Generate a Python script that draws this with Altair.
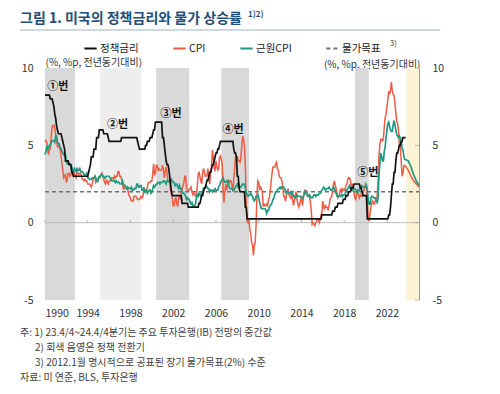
import altair as alt
import pandas as pd

FONT = "Noto Sans CJK KR"
START = 1990

# 정책금리 (monthly, 1990.1 ~ 2023.10)
ffr = [
    8.25, 8.25, 8.25, 8.25, 8.25, 8.25, 8.0, 8.0, 8.0, 7.75, 7.5, 7.0,      # 1990
    6.75, 6.25, 6.0, 5.75, 5.75, 5.75, 5.75, 5.5, 5.25, 5.0, 4.75, 4.0,     # 1991
    4.0, 4.0, 4.0, 3.75, 3.75, 3.75, 3.25, 3.25, 3.0, 3.0, 3.0, 3.0,        # 1992
    3.0, 3.0, 3.0, 3.0, 3.0, 3.0, 3.0, 3.0, 3.0, 3.0, 3.0, 3.0,             # 1993
    3.0, 3.25, 3.5, 3.75, 4.25, 4.25, 4.25, 4.75, 4.75, 4.75, 5.5, 5.5,     # 1994
    5.5, 6.0, 6.0, 6.0, 6.0, 6.0, 5.75, 5.75, 5.75, 5.75, 5.75, 5.5,        # 1995
    5.25, 5.25, 5.25, 5.25, 5.25, 5.25, 5.25, 5.25, 5.25, 5.25, 5.25, 5.25, # 1996
    5.25, 5.25, 5.5, 5.5, 5.5, 5.5, 5.5, 5.5, 5.5, 5.5, 5.5, 5.5,           # 1997
    5.5, 5.5, 5.5, 5.5, 5.5, 5.5, 5.5, 5.5, 5.25, 5.0, 4.75, 4.75,          # 1998
    4.75, 4.75, 4.75, 4.75, 4.75, 5.0, 5.0, 5.25, 5.25, 5.25, 5.5, 5.5,     # 1999
    5.5, 5.75, 6.0, 6.0, 6.5, 6.5, 6.5, 6.5, 6.5, 6.5, 6.5, 6.5,            # 2000
    5.5, 5.5, 5.0, 4.5, 4.0, 3.75, 3.75, 3.5, 3.0, 2.5, 2.0, 1.75,          # 2001
    1.75, 1.75, 1.75, 1.75, 1.75, 1.75, 1.75, 1.75, 1.75, 1.75, 1.25, 1.25, # 2002
    1.25, 1.25, 1.25, 1.25, 1.25, 1.0, 1.0, 1.0, 1.0, 1.0, 1.0, 1.0,        # 2003
    1.0, 1.0, 1.0, 1.0, 1.0, 1.25, 1.25, 1.5, 1.75, 1.75, 2.0, 2.25,        # 2004
    2.25, 2.5, 2.75, 2.75, 3.0, 3.25, 3.25, 3.5, 3.75, 3.75, 4.0, 4.25,     # 2005
    4.5, 4.5, 4.75, 4.75, 5.0, 5.25, 5.25, 5.25, 5.25, 5.25, 5.25, 5.25,    # 2006
    5.25, 5.25, 5.25, 5.25, 5.25, 5.25, 5.25, 5.25, 4.75, 4.5, 4.5, 4.25,   # 2007
    3.0, 3.0, 2.25, 2.0, 2.0, 2.0, 2.0, 2.0, 2.0, 1.0, 1.0, 0.25,           # 2008
    0.25, 0.25, 0.25, 0.25, 0.25, 0.25, 0.25, 0.25, 0.25, 0.25, 0.25, 0.25, # 2009
    0.25, 0.25, 0.25, 0.25, 0.25, 0.25, 0.25, 0.25, 0.25, 0.25, 0.25, 0.25, # 2010
    0.25, 0.25, 0.25, 0.25, 0.25, 0.25, 0.25, 0.25, 0.25, 0.25, 0.25, 0.25, # 2011
    0.25, 0.25, 0.25, 0.25, 0.25, 0.25, 0.25, 0.25, 0.25, 0.25, 0.25, 0.25, # 2012
    0.25, 0.25, 0.25, 0.25, 0.25, 0.25, 0.25, 0.25, 0.25, 0.25, 0.25, 0.25, # 2013
    0.25, 0.25, 0.25, 0.25, 0.25, 0.25, 0.25, 0.25, 0.25, 0.25, 0.25, 0.25, # 2014
    0.25, 0.25, 0.25, 0.25, 0.25, 0.25, 0.25, 0.25, 0.25, 0.25, 0.25, 0.5,  # 2015
    0.5, 0.5, 0.5, 0.5, 0.5, 0.5, 0.5, 0.5, 0.5, 0.5, 0.5, 0.75,            # 2016
    0.75, 0.75, 1.0, 1.0, 1.0, 1.25, 1.25, 1.25, 1.25, 1.25, 1.25, 1.5,     # 2017
    1.5, 1.5, 1.75, 1.75, 1.75, 2.0, 2.0, 2.0, 2.25, 2.25, 2.25, 2.5,       # 2018
    2.5, 2.5, 2.5, 2.5, 2.5, 2.5, 2.25, 2.25, 2.0, 1.75, 1.75, 1.75,        # 2019
    1.75, 1.75, 0.25, 0.25, 0.25, 0.25, 0.25, 0.25, 0.25, 0.25, 0.25, 0.25, # 2020
    0.25, 0.25, 0.25, 0.25, 0.25, 0.25, 0.25, 0.25, 0.25, 0.25, 0.25, 0.25, # 2021
    0.25, 0.25, 0.5, 0.5, 1.0, 1.75, 2.5, 2.5, 3.25, 3.25, 4.0, 4.5,        # 2022
    4.5, 4.75, 5.0, 5.0, 5.25, 5.25, 5.5, 5.5, 5.5, 5.5,                    # 2023
]

# CPI (전년동기대비, monthly, 1990.1 ~ 2023.9)
cpi = [
    5.2, 5.3, 5.2, 4.7, 4.4, 4.7, 4.8, 5.6, 6.2, 6.3, 6.3, 6.1,   # 1990
    5.7, 5.3, 4.9, 4.9, 5.0, 4.7, 4.4, 3.8, 3.4, 2.9, 3.0, 3.1,   # 1991
    2.6, 2.8, 3.2, 3.2, 3.0, 3.1, 3.2, 3.1, 3.0, 3.2, 3.0, 2.9,   # 1992
    3.3, 3.2, 3.1, 3.2, 3.2, 3.0, 2.8, 2.8, 2.7, 2.8, 2.7, 2.7,   # 1993
    2.5, 2.5, 2.5, 2.4, 2.3, 2.5, 2.8, 2.9, 3.0, 2.6, 2.7, 2.7,   # 1994
    2.8, 2.9, 2.9, 3.1, 3.2, 3.0, 2.8, 2.6, 2.5, 2.8, 2.6, 2.5,   # 1995
    2.7, 2.7, 2.8, 2.9, 2.9, 2.8, 3.0, 2.9, 3.0, 3.0, 3.3, 3.3,   # 1996
    3.0, 3.0, 2.8, 2.5, 2.2, 2.3, 2.2, 2.2, 2.2, 2.1, 1.8, 1.7,   # 1997
    1.6, 1.4, 1.4, 1.4, 1.7, 1.7, 1.7, 1.6, 1.5, 1.5, 1.5, 1.6,   # 1998
    1.7, 1.6, 1.7, 2.3, 2.1, 2.0, 2.1, 2.3, 2.6, 2.6, 2.6, 2.7,   # 1999
    2.7, 3.2, 3.8, 3.1, 3.2, 3.7, 3.7, 3.4, 3.5, 3.4, 3.4, 3.4,   # 2000
    3.7, 3.5, 2.9, 3.3, 3.6, 3.2, 2.7, 2.7, 2.6, 2.1, 1.9, 1.6,   # 2001
    1.1, 1.1, 1.5, 1.6, 1.2, 1.1, 1.5, 1.8, 1.5, 2.0, 2.2, 2.4,   # 2002
    2.6, 3.0, 3.0, 2.2, 2.1, 2.1, 2.1, 2.2, 2.3, 2.0, 1.8, 1.9,   # 2003
    1.9, 1.7, 1.7, 2.3, 3.1, 3.3, 3.0, 2.7, 2.5, 3.2, 3.5, 3.3,   # 2004
    3.0, 3.0, 3.1, 3.5, 2.8, 2.5, 3.2, 3.6, 4.7, 4.3, 3.5, 3.4,   # 2005
    4.0, 3.6, 3.4, 3.5, 4.2, 4.3, 4.1, 3.8, 2.1, 1.3, 2.0, 2.5,   # 2006
    2.1, 2.4, 2.8, 2.6, 2.7, 2.7, 2.4, 2.0, 2.8, 3.5, 4.3, 4.1,   # 2007
    4.3, 4.0, 4.0, 3.9, 4.2, 5.0, 5.6, 5.4, 4.9, 3.7, 1.1, 0.1,   # 2008
    0.0, 0.2, -0.4, -0.7, -1.3, -1.4, -2.1, -1.5, -1.3, -0.2, 1.8, 2.7,  # 2009
    2.6, 2.1, 2.3, 2.2, 2.0, 1.1, 1.2, 1.1, 1.1, 1.2, 1.1, 1.5,   # 2010
    1.6, 2.1, 2.7, 3.2, 3.6, 3.6, 3.6, 3.8, 3.9, 3.5, 3.4, 3.0,   # 2011
    2.9, 2.9, 2.7, 2.3, 1.7, 1.7, 1.4, 1.7, 2.0, 2.2, 1.8, 1.7,   # 2012
    1.6, 2.0, 1.5, 1.1, 1.4, 1.8, 2.0, 1.5, 1.2, 1.0, 1.2, 1.5,   # 2013
    1.6, 1.1, 1.5, 2.0, 2.1, 2.1, 2.0, 1.7, 1.7, 1.7, 1.3, 0.8,   # 2014
    -0.1, 0.0, -0.1, -0.2, 0.0, 0.1, 0.2, 0.2, 0.0, 0.2, 0.5, 0.7,  # 2015
    1.4, 1.0, 0.9, 1.1, 1.0, 1.0, 0.8, 1.1, 1.5, 1.6, 1.7, 2.1,   # 2016
    2.5, 2.7, 2.4, 2.2, 1.9, 1.6, 1.7, 1.9, 2.2, 2.0, 2.2, 2.1,   # 2017
    2.1, 2.2, 2.4, 2.5, 2.8, 2.9, 2.9, 2.7, 2.3, 2.5, 2.2, 1.9,   # 2018
    1.6, 1.5, 1.9, 2.0, 1.8, 1.6, 1.8, 1.7, 1.7, 1.8, 2.1, 2.3,   # 2019
    2.5, 2.3, 1.5, 0.3, 0.1, 0.6, 1.0, 1.3, 1.4, 1.2, 1.2, 1.4,   # 2020
    1.4, 1.7, 2.6, 4.2, 5.0, 5.4, 5.4, 5.3, 5.4, 6.2, 6.8, 7.0,   # 2021
    7.5, 7.9, 8.5, 8.3, 8.6, 9.1, 8.5, 8.3, 8.2, 7.7, 7.1, 6.5,   # 2022
    6.4, 6.0, 5.0, 4.9, 4.0, 3.0, 3.2, 3.7, 3.7,                  # 2023
]

# 근원CPI (전년동기대비, monthly, 1990.1 ~ 2023.9)
core = [
    4.4, 4.6, 4.9, 4.9, 4.8, 5.0, 5.0, 5.2, 5.3, 5.3, 5.3, 5.2,   # 1990
    5.6, 5.6, 5.2, 5.1, 5.1, 4.8, 4.8, 4.6, 4.5, 4.4, 4.5, 4.4,   # 1991
    3.9, 3.8, 3.9, 3.8, 3.8, 3.7, 3.6, 3.4, 3.3, 3.5, 3.4, 3.3,   # 1992
    3.5, 3.4, 3.4, 3.5, 3.3, 3.3, 3.3, 3.2, 3.1, 3.1, 3.1, 3.2,   # 1993
    2.9, 2.9, 2.8, 2.8, 2.8, 2.9, 2.9, 2.9, 3.0, 2.9, 2.8, 2.6,   # 1994
    2.9, 3.0, 3.0, 3.1, 3.1, 3.0, 3.0, 2.9, 2.9, 3.0, 3.0, 3.0,   # 1995
    3.0, 2.9, 2.8, 2.7, 2.7, 2.7, 2.7, 2.6, 2.7, 2.6, 2.6, 2.6,   # 1996
    2.5, 2.5, 2.5, 2.7, 2.5, 2.4, 2.4, 2.3, 2.2, 2.3, 2.2, 2.2,   # 1997
    2.2, 2.3, 2.1, 2.1, 2.2, 2.2, 2.2, 2.5, 2.5, 2.3, 2.3, 2.4,   # 1998
    2.4, 2.1, 2.1, 2.2, 2.0, 2.1, 2.1, 1.9, 2.0, 2.1, 2.1, 1.9,   # 1999
    2.0, 2.2, 2.4, 2.3, 2.4, 2.5, 2.5, 2.6, 2.6, 2.5, 2.6, 2.6,   # 2000
    2.6, 2.7, 2.7, 2.6, 2.5, 2.7, 2.7, 2.7, 2.6, 2.6, 2.8, 2.7,   # 2001
    2.6, 2.6, 2.4, 2.5, 2.5, 2.3, 2.2, 2.4, 2.2, 2.2, 2.0, 1.9,   # 2002
    1.9, 1.8, 1.7, 1.5, 1.6, 1.5, 1.5, 1.3, 1.2, 1.3, 1.1, 1.1,   # 2003
    1.1, 1.2, 1.6, 1.8, 1.7, 1.9, 1.8, 1.7, 2.0, 2.0, 2.2, 2.2,   # 2004
    2.3, 2.4, 2.3, 2.2, 2.2, 2.0, 2.1, 2.1, 2.0, 2.1, 2.1, 2.2,   # 2005
    2.1, 2.1, 2.1, 2.3, 2.4, 2.6, 2.7, 2.8, 2.9, 2.7, 2.6, 2.6,   # 2006
    2.7, 2.7, 2.5, 2.3, 2.2, 2.2, 2.2, 2.1, 2.1, 2.2, 2.3, 2.4,   # 2007
    2.5, 2.3, 2.4, 2.3, 2.3, 2.4, 2.5, 2.5, 2.5, 2.2, 2.0, 1.8,   # 2008
    1.7, 1.8, 1.8, 1.9, 1.8, 1.7, 1.5, 1.4, 1.5, 1.7, 1.7, 1.8,   # 2009
    1.6, 1.3, 1.1, 0.9, 0.9, 0.9, 0.9, 0.9, 0.8, 0.6, 0.8, 0.8,   # 2010
    1.0, 1.1, 1.2, 1.3, 1.5, 1.6, 1.8, 2.0, 2.0, 2.1, 2.2, 2.2,   # 2011
    2.3, 2.2, 2.3, 2.3, 2.3, 2.2, 2.1, 1.9, 2.0, 2.0, 1.9, 1.9,   # 2012
    1.9, 2.0, 1.9, 1.7, 1.7, 1.6, 1.7, 1.8, 1.7, 1.7, 1.7, 1.7,   # 2013
    1.6, 1.6, 1.7, 1.8, 2.0, 1.9, 1.9, 1.7, 1.7, 1.8, 1.7, 1.6,   # 2014
    1.6, 1.7, 1.8, 1.8, 1.7, 1.8, 1.8, 1.8, 1.9, 1.9, 2.0, 2.1,   # 2015
    2.2, 2.3, 2.2, 2.1, 2.2, 2.2, 2.2, 2.3, 2.2, 2.1, 2.1, 2.2,   # 2016
    2.3, 2.2, 2.0, 1.9, 1.7, 1.7, 1.7, 1.7, 1.7, 1.8, 1.7, 1.8,   # 2017
    1.8, 1.8, 2.1, 2.1, 2.2, 2.3, 2.4, 2.2, 2.2, 2.1, 2.2, 2.2,   # 2018
    2.2, 2.1, 2.0, 2.1, 2.0, 2.1, 2.2, 2.4, 2.4, 2.3, 2.3, 2.3,   # 2019
    2.3, 2.4, 2.1, 1.4, 1.2, 1.2, 1.6, 1.7, 1.7, 1.6, 1.6, 1.6,   # 2020
    1.4, 1.3, 1.6, 3.0, 3.8, 4.5, 4.3, 4.0, 4.0, 4.6, 4.9, 5.5,   # 2021
    6.0, 6.4, 6.5, 6.2, 6.0, 5.9, 5.9, 6.3, 6.6, 6.3, 6.0, 5.7,   # 2022
    5.6, 5.5, 5.6, 5.5, 5.3, 4.8, 4.7, 4.3, 4.1,                  # 2023
]

# IB 전망 중간값 (23.4/4 ~ 24.4/4분기)
fcst_x = [2024.0, 2024.25, 2024.5, 2024.75, 2025.0]
cpi_fcst = [3.4, 3.0, 2.7, 2.5, 2.3]
core_fcst = [4.0, 3.6, 3.1, 2.7, 2.4]

target_x = [1990, 2025]
target_v = [2.0, 2.0]

# 정책 전환기 음영
gray_start = [1990.0, 2000.4, 2006.5, 2019.0]
gray_end = [1992.8, 2003.5, 2009.1, 2020.3]
hatch_start = [1995.15]
hatch_end = [1999.0]
fcst_start = [2023.8]
fcst_end = [2025.0]

ann_x = [1991.2, 1996.8, 2001.8, 2007.6, 2020.2]
ann_y = [8.75, 6.3, 7.0, 6.0, 3.2]
ann_t = ["①번", "②번", "③번", "④번", "⑤번"]

x_ticks = [1990, 1994, 1998, 2002, 2006, 2010, 2014, 2018, 2022]
y_ticks = [-5, 0, 5, 10]

series_names = ["정책금리", "CPI", "근원CPI", "물가목표"]
series_colors = ["#111111", "#ef5b43", "#1f9a80", "#707070"]

title_text = "그림 1. 미국의 정책금리와 물가 상승률"
title_sup = "1)2)"
unit_text = "(%, %p, 전년동기대비)"
notes = [
    "주: 1) 23.4/4~24.4/4분기는 주요 투자은행(IB) 전망의 중간값",
    "2) 회색 음영은 정책 전환기",
    "3) 2012.1월 명시적으로 공표된 장기 물가목표(2%) 수준",
    "자료: 미 연준, BLS, 투자은행",
]

# ---------------- build tables ----------------
def monthly(vals):
    return [START + i / 12 for i in range(len(vals))]

rows = []
for x, v in zip(monthly(ffr), ffr):
    rows.append({"x": x, "v": v, "series": "정책금리"})
for x, v in zip(monthly(cpi) + fcst_x, cpi + cpi_fcst):
    rows.append({"x": x, "v": v, "series": "CPI"})
for x, v in zip(monthly(core) + fcst_x, core + core_fcst):
    rows.append({"x": x, "v": v, "series": "근원CPI"})
for x, v in zip(target_x, target_v):
    rows.append({"x": x, "v": v, "series": "물가목표"})
lines_df = pd.DataFrame(rows)

gray_df = pd.DataFrame({"x0": gray_start, "x1": gray_end})
hatch_df = pd.DataFrame({"x0": hatch_start, "x1": hatch_end})
fc_df = pd.DataFrame({"x0": fcst_start, "x1": fcst_end})
ann_df = pd.DataFrame({"x": ann_x, "y": ann_y, "t": ann_t})
xt_df = pd.DataFrame({"x": x_ticks})
yt_df = pd.DataFrame({"y": y_ticks})

xscale = alt.Scale(domain=[1990, 2025], nice=False, zero=False)
yscale = alt.Scale(domain=[-5, 10], nice=False, zero=False)

X = alt.X("x:Q", scale=xscale,
          axis=alt.Axis(values=x_ticks, labelExpr="'' + datum.value", title=None,
                        ticks=False, domain=False, grid=False, labelPadding=8,
                        labelFontSize=10.5, labelColor="#333333", labelFont=FONT))

legend = alt.Legend(orient="none", legendX=38, legendY=-27, direction="horizontal",
                    title=None, symbolType="stroke", symbolSize=150, symbolStrokeWidth=2,
                    labelFont=FONT, labelFontSize=10.5, labelColor="#222222",
                    columnPadding=30, labelOffset=2)
color = alt.Color("series:N", scale=alt.Scale(domain=series_names, range=series_colors),
                  legend=legend)
dash = alt.StrokeDash("series:N",
                      scale=alt.Scale(domain=series_names,
                                      range=[[1, 0], [1, 0], [1, 0], [4, 3]]),
                      legend=legend)

yleft = alt.Y("v:Q", scale=yscale,
              axis=alt.Axis(values=y_ticks, labelExpr="'' + datum.value", ticks=False,
                            domain=False, grid=False, labelPadding=12,
                            labelFontSize=10.5, labelColor="#333333", labelFont=FONT,
                            title=unit_text, titleAngle=0, titleAlign="left",
                            titleBaseline="middle", titleX=0, titleY=-6,
                            titleFont=FONT, titleFontSize=10, titleFontWeight="normal",
                            titleColor="#333333"))

gray = alt.Chart(gray_df).mark_rect(color="#d9d9d9").encode(
    x=alt.X("x0:Q", scale=xscale), x2="x1:Q",
    y=alt.datum(10, scale=yscale), y2=alt.datum(-5))
hatch = alt.Chart(hatch_df).mark_rect(color="#eeeeee").encode(
    x=alt.X("x0:Q", scale=xscale), x2="x1:Q",
    y=alt.datum(10, scale=yscale), y2=alt.datum(-5))
fcbox = alt.Chart(fc_df).mark_rect(color="#fcf2d4").encode(
    x=alt.X("x0:Q", scale=xscale), x2="x1:Q",
    y=alt.datum(10, scale=yscale), y2=alt.datum(-5))

zero = alt.Chart(pd.DataFrame({"x": target_x})).mark_line(color="#bdbdbd", strokeWidth=1).encode(
    x=alt.X("x:Q", scale=xscale), y=alt.datum(0, scale=yscale))
xt = alt.Chart(xt_df).mark_tick(orient="vertical", size=3, thickness=1, color="#9a9a9a",
                               yOffset=-1.5).encode(
    x=alt.X("x:Q", scale=xscale), y=alt.datum(0, scale=yscale))

base = alt.Chart(lines_df)

def series_layer(name, width):
    return base.transform_filter(alt.datum.series == name).mark_line(
        strokeWidth=width).encode(x=X, y=yleft, color=color, strokeDash=dash)

target = series_layer("물가목표", 1.6)
l_cpi = series_layer("CPI", 1.5)
l_core = series_layer("근원CPI", 1.7)
l_ffr = series_layer("정책금리", 1.7)

ann = alt.Chart(ann_df).mark_text(font=FONT, fontSize=11, fontWeight="bold",
                                  color="#111111").encode(
    x=alt.X("x:Q", scale=xscale), y=alt.Y("y:Q", scale=yscale), text="t:N")

left = alt.layer(gray, hatch, fcbox, zero, xt, target, l_cpi, l_core, l_ffr, ann)

right = alt.Chart(yt_df).mark_tick(orient="horizontal", size=4, thickness=1,
                                   color="#9a9a9a", xOffset=-2).encode(
    x=alt.X(datum=2025, scale=xscale, type="quantitative"),
    y=alt.Y("y:Q", scale=yscale,
            axis=alt.Axis(orient="right", values=y_ticks, labelExpr="'' + datum.value",
                          ticks=False, domain=True, domainColor="#9a9a9a", grid=False,
                          labelPadding=13, labelFontSize=10.5, labelColor="#333333",
                          labelFont=FONT, title=unit_text, titleAngle=0,
                          titleAlign="right", titleBaseline="middle", titleX=1,
                          titleY=-4, titleFont=FONT, titleFontSize=10,
                          titleFontWeight="normal", titleColor="#333333")))

def text_mark(t, x, y, size=10, weight="normal", col="#404040"):
    return alt.Chart(pd.DataFrame({"t": [t]})).mark_text(
        font=FONT, fontSize=size, fontWeight=weight, color=col, align="left",
        baseline="middle").encode(x=alt.value(x), y=alt.value(y), text="t:N")

title = text_mark(title_text, -25, -49, size=14, weight="bold", col="#1f4e79")
sup = text_mark(title_sup, 203, -53, size=8, weight="bold", col="#1f4e79")
tline = alt.Chart(pd.DataFrame({"a": [0]})).mark_rule(color="#9fb3c6", strokeWidth=1).encode(
    x=alt.value(-25), x2=alt.value(395), y=alt.value(-38))
leg_sup = text_mark("3)", 345, -24, size=7.5, col="#333333")
n1 = text_mark(notes[0], -25, 265)
n2 = text_mark(notes[1], -10, 280)
n3 = text_mark(notes[2], -10, 295)
n4 = text_mark(notes[3], -25, 310)

chart = alt.layer(left, right, title, sup, tline, leg_sup, n1, n2, n3, n4).resolve_scale(
    y="independent"
).properties(
    width=374, height=232,
    padding={"left": 37, "top": 60, "right": 73, "bottom": 86},
    autosize=alt.AutoSizeParams(type="none"),
).configure_view(stroke=None)

chart.save("out.html", embed_options={"renderer": "svg", "actions": False})
